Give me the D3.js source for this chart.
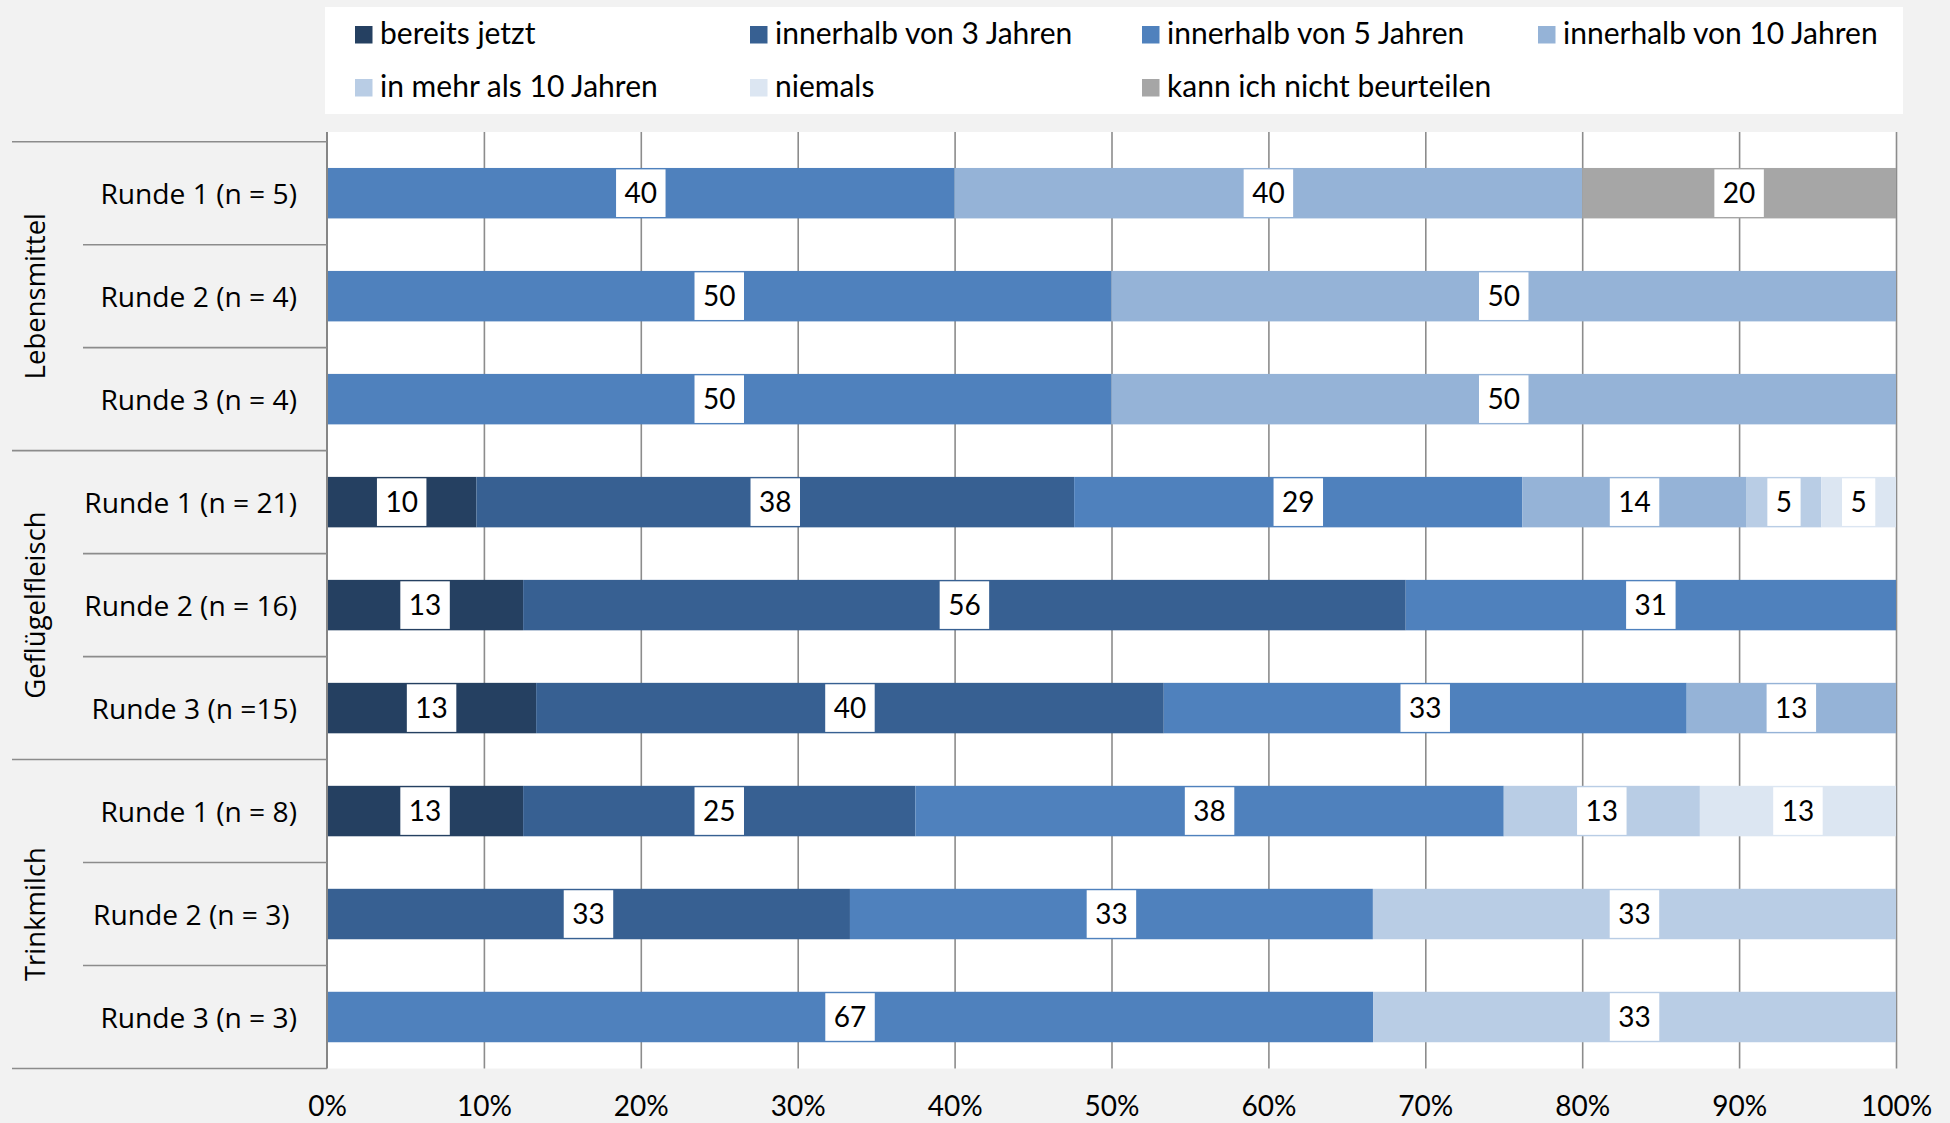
<!DOCTYPE html>
<html><head><meta charset="utf-8">
<script src="https://cdn.jsdelivr.net/npm/d3@7"></script>
<style>
html,body{margin:0;padding:0;background:#F2F2F2;}
svg{display:block;}
</style></head><body>
<svg id="chart" width="1950" height="1123"></svg>
<script>
// ---------- data ----------
const groupNames = ["Lebensmittel", "Geflügelfleisch", "Trinkmilch"];
const categoryGroups = ["Lebensmittel","Lebensmittel","Lebensmittel",
  "Geflügelfleisch","Geflügelfleisch","Geflügelfleisch",
  "Trinkmilch","Trinkmilch","Trinkmilch"];
const categoryLabels = ["Runde 1 (n = 5)", "Runde 2 (n = 4)", "Runde 3 (n = 4)",
  "Runde 1 (n = 21)", "Runde 2 (n = 16)", "Runde 3 (n =15)",
  "Runde 1 (n = 8)", "Runde 2 (n = 3) ", "Runde 3 (n = 3)"];
const seriesNames = ["bereits jetzt", "innerhalb von 3 Jahren", "innerhalb von 5 Jahren",
  "innerhalb von 10 Jahren", "in mehr als 10 Jahren", "niemals", "kann ich nicht beurteilen"];
// percentages per category (same order as categoryLabels)
const bereitsJetzt   = [0, 0, 0, 9.52, 12.5, 13.33, 12.5, 0, 0];
const innerhalb3     = [0, 0, 0, 38.10, 56.25, 40.00, 25.0, 33.33, 0];
const innerhalb5     = [40, 50, 50, 28.57, 31.25, 33.33, 37.5, 33.33, 66.67];
const innerhalb10    = [40, 50, 50, 14.29, 0, 13.34, 0, 0, 0];
const mehrAls10      = [0, 0, 0, 4.76, 0, 0, 12.5, 33.34, 33.33];
const niemals        = [0, 0, 0, 4.76, 0, 0, 12.5, 0, 0];
const kannNicht      = [20, 0, 0, 0, 0, 0, 0, 0, 0];
const seriesValues = [bereitsJetzt, innerhalb3, innerhalb5, innerhalb10, mehrAls10, niemals, kannNicht];
const xTicks = [0, 10, 20, 30, 40, 50, 60, 70, 80, 90, 100];
const xTickLabels = ["0%", "10%", "20%", "30%", "40%", "50%", "60%", "70%", "80%", "90%", "100%"];
const seriesColors = ["#254061", "#376092", "#4F81BD", "#95B3D7", "#B9CDE5", "#DCE6F2", "#A6A6A6"];

// ---------- layout ----------
const W = 1950, H = 1123;
const P = {left: 327, right: 1896, top: 132, bandTop: 141.7, bottom: 1068.5};
const LABEL_FONT = "'Open Sans', sans-serif";
const NUM_FONT = "Lato, sans-serif";
const GRID = "#8C8C8C";

const svg = d3.select("#chart");
svg.append("rect").attr("width", W).attr("height", H).attr("fill", "#F2F2F2");

const x = d3.scaleLinear().domain([0, 100]).range([P.left, P.right]);
const y = d3.scaleBand().domain(d3.range(categoryLabels.length))
  .range([P.bandTop, P.bottom]).paddingInner(0.51).paddingOuter(0.255);
const step = y.step();
const color = d3.scaleOrdinal().domain(seriesNames).range(seriesColors);

// table for stacking
const rows = categoryLabels.map((c, i) => {
  const r = {idx: i};
  seriesNames.forEach((s, k) => r[s] = seriesValues[k][i]);
  return r;
});
const stacked = d3.stack().keys(seriesNames)(rows);

// ---------- legend ----------
svg.append("rect").attr("x", 325).attr("y", 7).attr("width", 1578).attr("height", 107).attr("fill", "#FFFFFF");
const legCols = [355, 750, 1142, 1538], legRows = [43.5, 96.5];
const leg = svg.append("g").selectAll("g").data(seriesNames).join("g")
  .attr("transform", (d, i) => `translate(${legCols[i % 4]},${legRows[Math.floor(i / 4)]})`);
leg.append("rect").attr("x", 0).attr("y", -17.5).attr("width", 17.5).attr("height", 17.5)
  .attr("fill", d => color(d));
leg.append("text").attr("x", 25).attr("y", 0).text(d => d)
  .attr("font-family", NUM_FONT).attr("font-size", 30).attr("fill", "#000");

// ---------- plot area ----------
svg.append("rect").attr("x", P.left).attr("y", P.top).attr("width", P.right - P.left)
  .attr("height", P.bottom - P.top).attr("fill", "#FFFFFF");

// gridlines via axis
const gridAxis = d3.axisBottom(x).tickValues(xTicks.slice(1)).tickSize(-(P.bottom - P.top)).tickFormat("");
const gg = svg.append("g").attr("transform", `translate(0,${P.bottom})`).call(gridAxis);
gg.select(".domain").remove();
gg.selectAll(".tick line").attr("stroke", GRID).attr("stroke-width", 1.6);

// bars
const layer = svg.append("g").selectAll("g").data(stacked).join("g").attr("fill", d => color(d.key));
layer.selectAll("rect").data(d => d.filter(p => p[1] - p[0] > 0)).join("rect")
  .attr("x", d => x(d[0])).attr("width", d => x(d[1]) - x(d[0]))
  .attr("y", d => y(d.data.idx)).attr("height", y.bandwidth());

// data labels
const labelData = [];
stacked.forEach(s => s.forEach(p => {
  const v = p[1] - p[0];
  if (v > 0) labelData.push({v, cx: x((p[0] + p[1]) / 2), cy: y(p.data.idx) + y.bandwidth() / 2});
}));
const lg = svg.append("g").selectAll("g").data(labelData).join("g")
  .attr("transform", d => `translate(${d.cx},${d.cy})`);
const lt = lg.append("text").text(d => Math.round(d.v))
  .attr("text-anchor", "middle").attr("y", 10)
  .attr("font-family", NUM_FONT).attr("font-size", 28).attr("fill", "#000");
lt.each(function () {
  const w = this.getComputedTextLength();
  d3.select(this.parentNode).insert("rect", "text")
    .attr("x", -w / 2 - 8.5).attr("y", -23.8).attr("width", w + 17).attr("height", 47.6)
    .attr("fill", "#FFFFFF");
});

// vertical category axis line
svg.append("line").attr("x1", P.left).attr("x2", P.left).attr("y1", P.top).attr("y2", P.bottom)
  .attr("stroke", "#868686").attr("stroke-width", 2);

// category separator lines
const seps = d3.range(categoryLabels.length + 1);
svg.append("g").selectAll("line").data(seps).join("line")
  .attr("x1", i => (i % 3 === 0 ? 12 : 83)).attr("x2", P.left)
  .attr("y1", i => P.bandTop + i * step).attr("y2", i => P.bandTop + i * step)
  .attr("stroke", GRID).attr("stroke-width", 1.6);

// category labels
svg.append("g").selectAll("text").data(categoryLabels).join("text")
  .attr("x", 297).attr("y", (d, i) => y(i) + y.bandwidth() / 2 + 10.5)
  .attr("text-anchor", "end").style("white-space", "pre")
  .attr("font-family", LABEL_FONT).attr("font-size", 28.2).attr("fill", "#000")
  .text(d => d);

// group labels
svg.append("g").selectAll("text").data(groupNames).join("text")
  .attr("transform", g => {
    const idx = categoryGroups.map((c, i) => c === g ? i : -1).filter(i => i >= 0);
    const cy = (y(d3.min(idx)) + y(d3.max(idx)) + y.bandwidth()) / 2;
    return `translate(45,${cy}) rotate(-90)`;
  })
  .attr("text-anchor", "middle")
  .attr("font-family", LABEL_FONT).attr("font-size", 27.5).attr("fill", "#000")
  .text(d => d);

// x axis tick labels
const xAxis = d3.axisBottom(x).tickValues(xTicks).tickSize(0)
  .tickFormat((d, i) => xTickLabels[i]);
const xg = svg.append("g").attr("transform", `translate(0,${P.bottom})`).call(xAxis);
xg.select(".domain").remove();
xg.selectAll(".tick text").attr("y", 0).attr("dy", 0).attr("transform", "translate(0,47.5)")
  .attr("font-family", NUM_FONT).attr("font-size", 28).attr("fill", "#000");
</script>
</body></html>
